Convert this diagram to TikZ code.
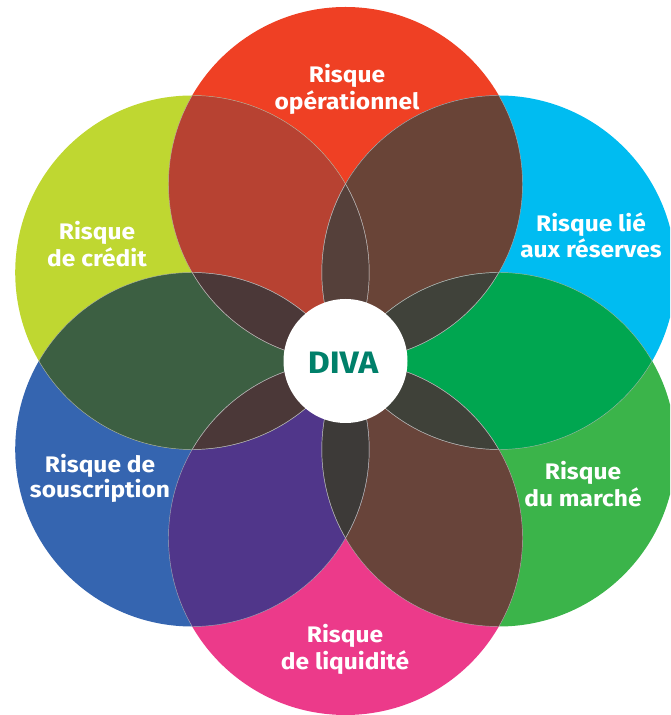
\documentclass[tikz,border=0pt]{standalone}
\usepackage{fontspec}
\setmainfont{Fira Sans}[FakeStretch=1.09]
\usetikzlibrary{calc}
\definecolor{cT}{HTML}{EF4024}
\definecolor{cUR}{HTML}{00BCF1}
\definecolor{cLR}{HTML}{3BB44A}
\definecolor{cB}{HTML}{EC3A8A}
\definecolor{cLL}{HTML}{3565B0}
\definecolor{cUL}{HTML}{BFD731}
\definecolor{pTUR}{HTML}{694437}
\definecolor{pURLR}{HTML}{00A650}
\definecolor{pLRB}{HTML}{68443A}
\definecolor{pBLL}{HTML}{50368A}
\definecolor{pLLUL}{HTML}{3C5F42}
\definecolor{pULT}{HTML}{B74232}
\definecolor{tA}{HTML}{55403A}
\definecolor{tB}{HTML}{40423A}
\definecolor{tC}{HTML}{3F4139}
\definecolor{tD}{HTML}{3D3A38}
\definecolor{tE}{HTML}{4B3838}
\definecolor{tF}{HTML}{4B3838}
\definecolor{diva}{HTML}{00806A}
\tikzset{
  lbl/.style={text=white, font=\fontsize{22.5}{27}\selectfont\bfseries, anchor=base, inner sep=0pt},
  edge/.style={line width=0.45pt, draw=gray!55!white, opacity=0.8}
}
\begin{document}
\begin{tikzpicture}[x=1pt,y=1pt]
\useasboundingbox (0,0) rectangle (670,715);
\clip (0,0) rectangle (670,715);
\def\R{177}
\coordinate (C) at (345.5,354);
\foreach \n/\a in {T/90,UR/30,LR/-30,B/-90,LL/-150,UL/150}
  \coordinate (\n) at ($(C)+(\a:\R)$);
% single circles
\foreach \n in {T,UR,LR,B,LL,UL}
  \fill[c\n] (\n) circle (\R);
% pair overlaps
\foreach \a/\b/\c in {T/UR/pTUR,UR/LR/pURLR,LR/B/pLRB,B/LL/pBLL,LL/UL/pLLUL,UL/T/pULT}{
  \begin{scope}
    \clip (\a) circle (\R);
    \fill[\c] (\b) circle (\R);
  \end{scope}
}
% triple overlaps (inner lenses)
\foreach \a/\b/\c in {UL/UR/tA,T/LR/tB,UR/B/tC,LR/LL/tD,B/UL/tE,LL/T/tF}{
  \begin{scope}
    \clip (\a) circle (\R);
    \fill[\c] (\b) circle (\R);
  \end{scope}
}
% thin inner boundary lines
\foreach \i in {T,UR,LR,B,LL,UL}{
  \foreach \j in {T,UR,LR,B,LL,UL}{
    \ifx\i\j\else
      \begin{scope}
        \clip (\j) circle (\R);
        \draw[edge] (\i) circle (\R);
      \end{scope}
    \fi
  }
}
% centre
\node[circle, fill=white, minimum size=124pt, inner sep=0pt] (centre) at (C) {};
\node[text=diva, font=\fontsize{31}{31}\selectfont\bfseries, anchor=base, inner sep=0pt] (divatext) at (343,341) {DIVA};
% labels
\node[lbl] (t1) at (347,632) {Risque};
\node[lbl] (t2) at (347,605) {opérationnel};
\node[lbl] (ur1) at (591,483) {Risque lié};
\node[lbl] (ur2) at (591,457) {aux réserves};
\node[lbl] (lr1) at (583,235) {Risque};
\node[lbl] (lr2) at (583,208) {du marché};
\node[lbl] (b1) at (345,72) {Risque};
\node[lbl] (b2) at (345,45) {de liquidité};
\node[lbl] (ll1) at (100,242) {Risque de};
\node[lbl] (ll2) at (100,217) {souscription};
\node[lbl] (ul1) at (97,475) {Risque};
\node[lbl] (ul2) at (97,448) {de crédit};
\end{tikzpicture}
\end{document}
